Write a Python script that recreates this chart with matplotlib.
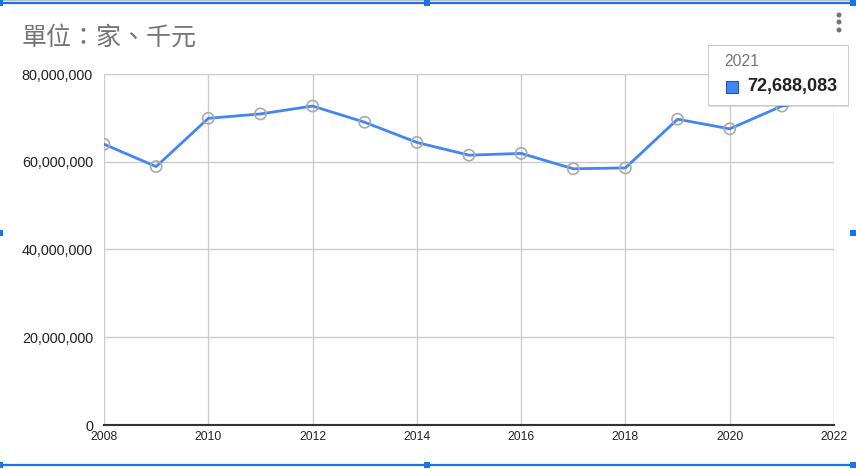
import matplotlib
matplotlib.use("Agg")
import matplotlib.pyplot as plt
from matplotlib.patches import Rectangle, Ellipse
from matplotlib.ticker import FuncFormatter

# Data (unit: 千元)
years = [2008, 2009, 2010, 2011, 2012, 2013, 2014, 2015, 2016, 2017, 2018, 2019, 2020, 2021, 2022]
values = [64000000, 58900000, 69900000, 70900000, 72700000, 69000000, 64400000, 61500000,
          61900000, 58400000, 58600000, 69700000, 67500000, 72688083, 74500000]
x_ticks = [2008, 2010, 2012, 2014, 2016, 2018, 2020, 2022]
y_ticks = [0, 20000000, 40000000, 60000000, 80000000]
title = "單位：家、千元"
tip_year = 2021
tip_value = 72688083

LINE_BLUE = "#4285f4"
W, H = 856, 469

fig = plt.figure(figsize=(W / 100, H / 100), dpi=100)
ax = fig.add_axes([104 / W, 1 - 425 / H, (834 - 104) / W, (425 - 74) / H])

ax.plot(years, values, color=LINE_BLUE, linewidth=2, zorder=3)
ax.scatter(years, values, s=65, facecolors="none", edgecolors="#aaaaaa", linewidths=1.2, zorder=4)

ax.set_xlim(2008, 2022)
ax.set_ylim(0, 80000000)
ax.set_xticks(x_ticks)
ax.set_yticks(y_ticks)
ax.yaxis.set_major_formatter(FuncFormatter(lambda v, _: f"{int(v):,}"))
ax.grid(True, color="#cccccc", linewidth=1)
ax.set_axisbelow(True)
for side in ["top", "right", "left"]:
    ax.spines[side].set_visible(False)
ax.spines["bottom"].set_color("#333333")
ax.spines["bottom"].set_linewidth(1.5)
ax.spines["bottom"].set_zorder(5)
ax.tick_params(length=0)
ax.tick_params(axis="y", pad=8, labelsize=10.4, labelcolor="#222222")
ax.tick_params(axis="x", pad=4, labelsize=8.7, labelcolor="#222222")
for lab in ax.get_xticklabels() + ax.get_yticklabels():
    lab.set_fontfamily("Liberation Sans")

# title
fig.text(22 / W, 1 - 38 / H, title, fontsize=18, color="#757575", va="center", ha="left",
         family=["Noto Sans CJK TC", "DejaVu Sans"])

# tooltip (drawn on top of the chart)
tx0, ty0, tx1, ty1 = 708, 45, 848, 105
fig.patches.append(Rectangle((tx0 / W + 1 / W, 1 - (ty1 + 2) / H), (tx1 - tx0) / W, (ty1 - ty0) / H,
                             transform=fig.transFigure, facecolor="#000000", alpha=0.12,
                             edgecolor="none", zorder=9))
fig.patches.append(Rectangle((tx0 / W, 1 - ty1 / H), (tx1 - tx0) / W, (ty1 - ty0) / H,
                             transform=fig.transFigure, facecolor="white", edgecolor="#cccccc",
                             linewidth=0.8, zorder=10))
fig.text(724 / W, 1 - 62 / H, str(tip_year), fontsize=11.3, color="#757575", va="center",
         ha="left", family="Liberation Sans", zorder=11)
fig.patches.append(Rectangle((726 / W, 1 - 93 / H), 12 / W, 12 / H, transform=fig.transFigure,
                             facecolor=LINE_BLUE, edgecolor="#2a56b0", linewidth=0.8, zorder=11))
fig.text(747 / W, 1 - 87 / H, f"{tip_value:,}", fontsize=13, fontweight="bold", color="#222222",
         va="center", ha="left", family="Liberation Sans", zorder=11)

# menu dots
for yy in [15, 22, 30]:
    fig.patches.append(Ellipse((839 / W, 1 - yy / H), 5 / W, 5 / H, transform=fig.transFigure,
                               facecolor="#757575", edgecolor="none", zorder=11))

# editor frame: gray top edge, blue selection lines and handles
fig.add_artist(plt.Line2D([0, 1], [1 - 0.5 / H, 1 - 0.5 / H], transform=fig.transFigure,
                          color="#bdbdbd", linewidth=1))
for yy in [3, 465]:
    fig.add_artist(plt.Line2D([0, 1], [1 - yy / H, 1 - yy / H], transform=fig.transFigure,
                              color="#1a73e8", linewidth=1.6))
handles = [(0, 3), (427, 3), (853, 3), (0, 233), (853, 233), (0, 465), (427, 465), (853, 465)]
for hx, hy in handles:
    fig.patches.append(Rectangle(((hx - 3) / W, 1 - (hy + 3) / H), 6 / W, 6 / H,
                                 transform=fig.transFigure, facecolor="#1a73e8",
                                 edgecolor="none", zorder=12))

fig.savefig("out.png", dpi=100)
